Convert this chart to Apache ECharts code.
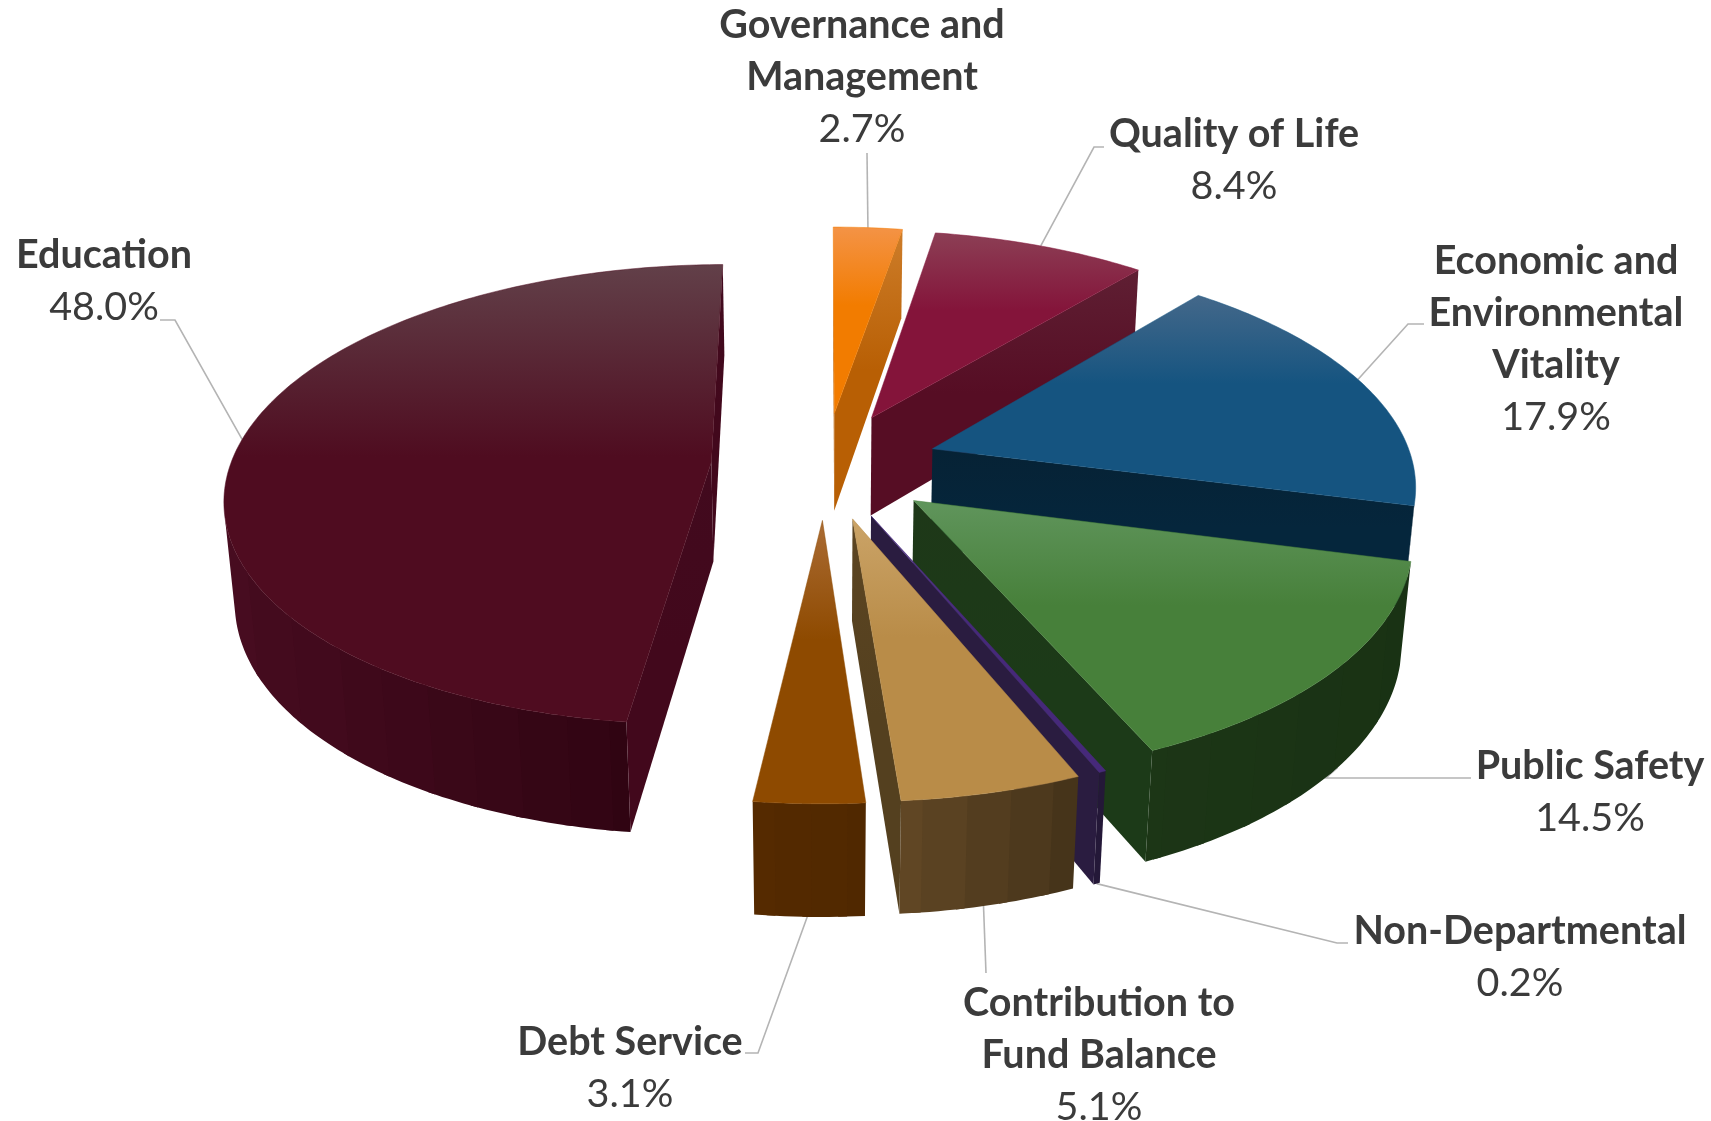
<!DOCTYPE html>
<html>
<head>
<meta charset="utf-8">
<title>General Fund Budget by Service Area</title>
<style>html,body{margin:0;padding:0;background:#fff}#chart{width:1711px;height:1121px}</style>
<script src="https://cdn.jsdelivr.net/npm/echarts@6/dist/echarts.min.js"></script>
</head>
<body>
<div id="chart"></div>
<script>
// Budget shares, clockwise from twelve o'clock
const categories = ['Governance and\nManagement', 'Quality of Life', 'Economic and\nEnvironmental\nVitality', 'Public Safety', 'Non-Departmental', 'Contribution to\nFund Balance', 'Debt Service', 'Education'];
const shares = [2.7, 8.4, 17.9, 14.5, 0.2, 5.1, 3.1, 48.0];

// Slice colours: top face [back, front], cut walls, rim [left, right]
const topLight = ['#f49346', '#8c3f55', '#44688a', '#60955c', '#5d4290', '#cba468', '#ab6c34', '#624049'];
const topBase = ['#f27c00', '#84143a', '#155480', '#47803a', '#46297a', '#b98c48', '#8e4a00', '#4f0c20'];
const wallDark = ['#b85f04', '#560d24', '#05263c', '#1c3a18', '#2a1c40', '#54401f', '#552a00', '#42081c'];
const wallLight = ['#cd7d2a', '#5f1f33', '#062235', '#1e3818', '#2a1c40', '#5c4522', '#552a00', '#420a1e'];
const rimLeft = ['#cd7d2a', '#5a0f27', '#062438', '#1c3616', '#2a1c40', '#604624', '#552a00', '#470c20'];
const rimRight = ['#cd7d2a', '#642434', '#052030', '#193214', '#241838', '#46341a', '#502800', '#300412'];

// Label blocks: centre x, top y, then the leader's path toward the slice
const labelX = [862, 1234, 1556, 1590, 1520, 1099, 630, 104];
const labelY = [-1, 108, 235, 740, 905, 977, 1016, 229];
const leaderPaths = [
  [[867, 153]],
  [[1104, 147], [1094, 147]],
  [[1424, 324], [1408, 324]],
  [[1471, 778], [1326, 778]],
  [[1348, 943], [1337, 943]],
  [[986, 973]],
  [[745, 1053], [758, 1053]],
  [[160, 320], [175, 320]]
];
// Where along its slice (0..1) each leader lands, and on which rim (top or bottom)
const leaderAlong = [0.5, 0.5, 0.48, 0.45, 0.5, 0.53, 0.52, 0.515];
const leaderRim = ['top', 'top', 'top', 'bottom', 'bottom', 'bottom', 'bottom', 'top'];

// Camera and solid
const RADIUS = 481, EXPLODE = 114, THICK = 115, VIEW_DIST = 3007, SIN_T = 0.47;
const COS_T = Math.sqrt(1 - SIN_T * SIN_T);
const CENTER = [825, 465];
const RIM_BAND_PX = 46;

function project(c, X, Y, Z) {
  const d = VIEW_DIST + Y * COS_T - Z * SIN_T;
  const s = VIEW_DIST / d;
  return [c.cx + X * s, c.cy - (Y * SIN_T + Z * COS_T) * s];
}
function shoelace(p) {
  let a = 0;
  for (let i = 0; i < p.length; i++) {
    const q = p[(i + 1) % p.length];
    a += p[i][0] * q[1] - q[0] * p[i][1];
  }
  return a;
}
let cum = 0;
const seriesData = shares.map((v, i) => { const row = [1, cum, v, i]; cum += v; return row; });
// Back slices are painted first
const depthRank = {};
seriesData
  .map(r => ({ i: r[3], y: Math.cos((r[1] + r[2] / 2) * Math.PI / 50) }))
  .sort((a, b) => b.y - a.y)
  .forEach((o, rank) => { depthRank[o.i] = rank; });

function renderSlice(params, api) {
  const c = params.coordSys;
  const start = api.value(1), share = api.value(2), idx = api.value(3);
  const mid = start + share / 2;
  const toPlane = (r, pct) => {
    const p = api.coord([r, pct]);
    return [p[0] - c.cx, c.cy - p[1]];
  };
  const dir = toPlane(1, mid);
  const ox = dir[0] / RADIUS * EXPLODE, oy = dir[1] / RADIUS * EXPLODE;
  const point = (r, pct, z) => {
    const q = toPlane(r, pct);
    return project(c, q[0] + ox, q[1] + oy, z);
  };
  const base = depthRank[idx] * 100;
  const children = [];

  // Steps along the arc
  const fine = [];
  for (let t = start; t < start + share; t += 0.25) fine.push(t);
  fine.push(start + share);

  // Rim: only the part facing the viewer, merged into broad vertical bands
  const rim = [];
  for (let k = 0; k + 1 < fine.length; k++) {
    const a = fine[k], b = fine[k + 1];
    const quad = [point(1, a, 0), point(1, b, 0), point(1, b, -THICK), point(1, a, -THICK)];
    if (shoelace(quad) < 0) rim.push(quad);
  }
  const xs = rim.flat().map(p => p[0]);
  const minX = Math.min.apply(null, xs), maxX = Math.max.apply(null, xs);
  const bands = Math.max(1, Math.ceil((maxX - minX) / RIM_BAND_PX));
  const merged = [];
  rim.forEach(quad => {
    const t = ((quad[0][0] + quad[1][0]) / 2 - minX) / Math.max(1, maxX - minX);
    const band = Math.round(t * bands);
    const last = merged[merged.length - 1];
    if (last && last.band === band) {
      last.upper.push(quad[1]);
      last.lower.push(quad[2]);
    } else {
      merged.push({ band, upper: [quad[0], quad[1]], lower: [quad[3], quad[2]] });
    }
  });
  // Each band runs a step under its neighbour so no hairline shows between them
  merged.forEach((m, k) => {
    const next = merged[k + 1];
    const upper = next ? m.upper.concat([next.upper[1]]) : m.upper;
    const lower = next ? m.lower.concat([next.lower[1]]) : m.lower;
    children.push({
      type: 'polygon', z2: base + 1,
      shape: { points: upper.concat(lower.slice().reverse()) },
      style: { fill: echarts.color.lerp(m.band / bands, [rimLeft[idx], rimRight[idx]]) }
    });
  });

  // Cut walls
  const wallFill = { type: 'linear', x: 0, y: 1, x2: 0, y2: 0, colorStops: [{ offset: 0, color: wallDark[idx] }, { offset: 0.5, color: wallDark[idx] }, { offset: 1, color: wallLight[idx] }] };
  const wall = pct => [point(0, pct, 0), point(1, pct, 0), point(1, pct, -THICK), point(0, pct, -THICK)];
  const endWall = wall(start + share), startWall = wall(start);
  if (shoelace(endWall) > 0) children.push({ type: 'polygon', z2: base + 2, shape: { points: endWall }, style: { fill: wallFill } });
  if (shoelace(startWall) < 0) children.push({ type: 'polygon', z2: base + 2, shape: { points: startWall }, style: { fill: wallFill } });

  // Top face
  const face = [point(0, start, 0)].concat(fine.map(t => point(1, t, 0)));
  children.push({
    type: 'polygon', z2: base + 3, shape: { points: face },
    style: {
      fill: { type: 'linear', x: 0, y: 0, x2: 0, y2: 1, colorStops: [{ offset: 0, color: topLight[idx] }, { offset: 0.42, color: topBase[idx] }, { offset: 1, color: topBase[idx] }] },
      stroke: topBase[idx], lineWidth: 0.5
    }
  });

  // Leader line
  const anchor = point(1, start + share * leaderAlong[idx], leaderRim[idx] === 'top' ? 0 : -THICK);
  children.push({
    type: 'polyline', z2: 1, shape: { points: leaderPaths[idx].concat([anchor]) },
    style: { stroke: '#b4b4b4', lineWidth: 1.6, fill: null }
  });

  // Label: bold name over the plain percentage
  const nameLines = categories[idx].split('\n').map(s => '{b|' + s + '}').join('\n');
  children.push({
    type: 'text', z2: 2000,
    x: labelX[idx], y: labelY[idx],
    style: {
      text: nameLines + '\n{v|' + share.toFixed(1) + '%}',
      align: 'center', verticalAlign: 'top',
      rich: {
        b: { font: 'bold 39.5px Lato', fill: '#3b3b3b', lineHeight: 52, align: 'center' },
        v: { font: '39.5px Lato', fill: '#3b3b3b', lineHeight: 52, align: 'center' }
      }
    }
  });
  return { type: 'group', children };
}

const chart = echarts.init(document.getElementById('chart'), null, { renderer: 'canvas' });
chart.setOption({
  animation: false,
  backgroundColor: '#ffffff',
  polar: { center: CENTER, radius: RADIUS },
  angleAxis: { type: 'value', min: 0, max: 100, startAngle: 90, clockwise: true, show: false },
  radiusAxis: { type: 'value', min: 0, max: 1, show: false },
  series: [{
    type: 'custom',
    coordinateSystem: 'polar',
    renderItem: renderSlice,
    clip: false,
    silent: true,
    encode: { radius: 0, angle: 1 },
    data: seriesData
  }]
});
</script>
</body>
</html>
